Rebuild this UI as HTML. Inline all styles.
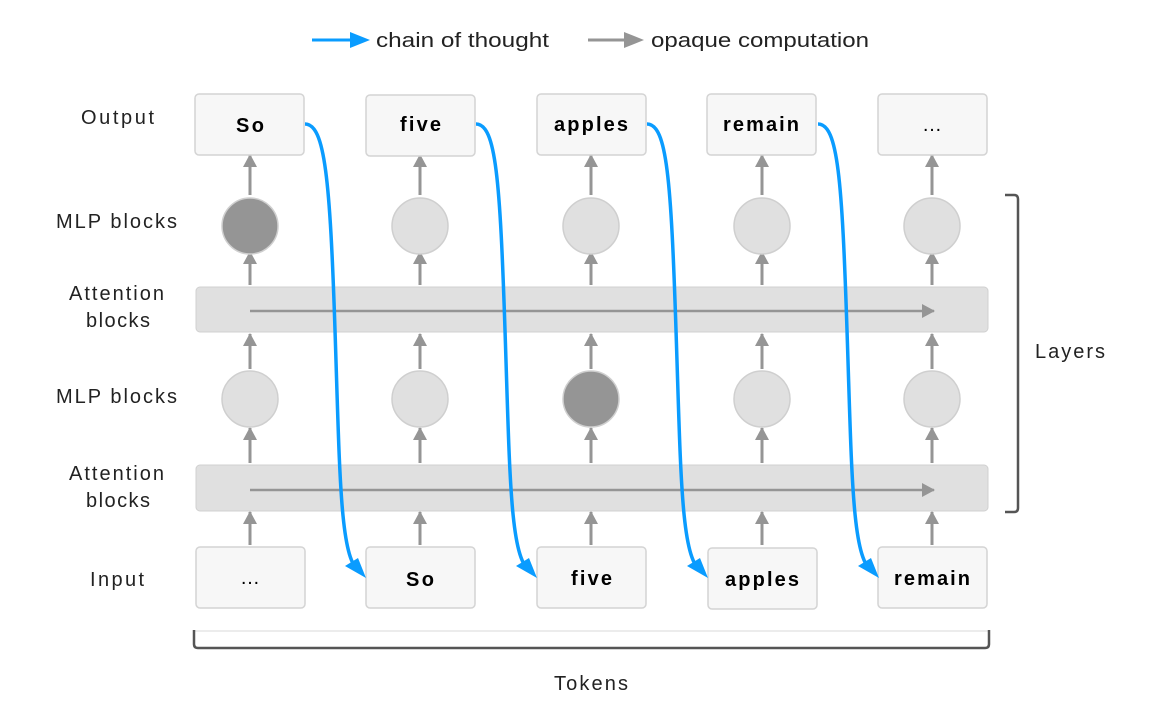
<!DOCTYPE html><html><head><style>body{margin:0;background:#fff}</style></head><body>
<svg width="1171" height="718" xmlns="http://www.w3.org/2000/svg" font-family="Liberation Sans, sans-serif">
<defs>
<marker id="g" markerWidth="14" markerHeight="14" refX="12" refY="7" orient="auto" markerUnits="userSpaceOnUse"><path d="M0,0 L13,7 L0,14z" fill="#959595"/></marker>
</defs>
<!-- legend -->
<line x1="312" y1="40" x2="356" y2="40" stroke="#0a9cff" stroke-width="3"/><path d="M350,32 L370,40 L350,48z" fill="#0a9cff"/>
<text x="376" y="47" font-size="20" fill="#222" textLength="173" lengthAdjust="spacingAndGlyphs">chain of thought</text>
<line x1="588" y1="40" x2="630" y2="40" stroke="#959595" stroke-width="3"/><path d="M624,32 L644,40 L624,48z" fill="#959595"/>
<text x="651" y="47" font-size="20" fill="#222" textLength="218" lengthAdjust="spacingAndGlyphs">opaque computation</text>
<!-- row labels -->
<g font-size="20" fill="#222" lengthAdjust="spacingAndGlyphs">
<text x="81" y="124" textLength="73">Output</text>
<text x="56" y="228" textLength="121">MLP blocks</text>
<text x="69" y="300" textLength="95">Attention</text><text x="86" y="327" textLength="64">blocks</text>
<text x="56" y="403" textLength="121">MLP blocks</text>
<text x="69" y="480" textLength="95">Attention</text><text x="86" y="507" textLength="64">blocks</text>
<text x="90" y="586" textLength="54">Input</text>
<text x="1035" y="358" textLength="70">Layers</text>
<text x="554" y="690" textLength="74">Tokens</text>
</g>
<!-- attention bars -->
<rect x="196" y="287" width="792" height="45" rx="4" fill="#e0e0e0" stroke="#d0d0d0"/>
<rect x="196" y="465" width="792" height="46" rx="4" fill="#e0e0e0" stroke="#d0d0d0"/>
<line x1="250" y1="311" x2="934" y2="311" stroke="#959595" stroke-width="2.5" marker-end="url(#g)"/>
<line x1="250" y1="490" x2="934" y2="490" stroke="#959595" stroke-width="2.5" marker-end="url(#g)"/>
<!-- columns -->
<g stroke="#959595" stroke-width="3" marker-end="url(#g)">
<line x1="250" y1="545" x2="250" y2="512"/><line x1="250" y1="463" x2="250" y2="428"/><line x1="250" y1="369" x2="250" y2="334"/><line x1="250" y1="285" x2="250" y2="252"/><line x1="250" y1="195" x2="250" y2="155"/>
<line x1="420" y1="545" x2="420" y2="512"/><line x1="420" y1="463" x2="420" y2="428"/><line x1="420" y1="369" x2="420" y2="334"/><line x1="420" y1="285" x2="420" y2="252"/><line x1="420" y1="195" x2="420" y2="155"/>
<line x1="591" y1="545" x2="591" y2="512"/><line x1="591" y1="463" x2="591" y2="428"/><line x1="591" y1="369" x2="591" y2="334"/><line x1="591" y1="285" x2="591" y2="252"/><line x1="591" y1="195" x2="591" y2="155"/>
<line x1="762" y1="545" x2="762" y2="512"/><line x1="762" y1="463" x2="762" y2="428"/><line x1="762" y1="369" x2="762" y2="334"/><line x1="762" y1="285" x2="762" y2="252"/><line x1="762" y1="195" x2="762" y2="155"/>
<line x1="932" y1="545" x2="932" y2="512"/><line x1="932" y1="463" x2="932" y2="428"/><line x1="932" y1="369" x2="932" y2="334"/><line x1="932" y1="285" x2="932" y2="252"/><line x1="932" y1="195" x2="932" y2="155"/>
</g>
<g stroke="#cfcfcf" stroke-width="1.5">
<circle cx="250" cy="226" r="28" fill="#959595"/><circle cx="420" cy="226" r="28" fill="#e0e0e0"/><circle cx="591" cy="226" r="28" fill="#e0e0e0"/><circle cx="762" cy="226" r="28" fill="#e0e0e0"/><circle cx="932" cy="226" r="28" fill="#e0e0e0"/>
<circle cx="250" cy="399" r="28" fill="#e0e0e0"/><circle cx="420" cy="399" r="28" fill="#e0e0e0"/><circle cx="591" cy="399" r="28" fill="#959595"/><circle cx="762" cy="399" r="28" fill="#e0e0e0"/><circle cx="932" cy="399" r="28" fill="#e0e0e0"/>
</g>
<!-- boxes -->
<g fill="#f7f7f7" stroke="#d4d4d4" stroke-width="1.5">
<rect x="195" y="94" width="109" height="61" rx="4"/><rect x="366" y="95" width="109" height="61" rx="4"/><rect x="537" y="94" width="109" height="61" rx="4"/><rect x="707" y="94" width="109" height="61" rx="4"/><rect x="878" y="94" width="109" height="61" rx="4"/>
<rect x="196" y="547" width="109" height="61" rx="4"/><rect x="366" y="547" width="109" height="61" rx="4"/><rect x="537" y="547" width="109" height="61" rx="4"/><rect x="708" y="548" width="109" height="61" rx="4"/><rect x="878" y="547" width="109" height="61" rx="4"/>
</g>
<g font-size="20" font-weight="bold" fill="#000" lengthAdjust="spacingAndGlyphs">
<text x="236" y="132" textLength="28">So</text><text x="400" y="131" textLength="41">five</text><text x="554" y="131" textLength="74">apples</text><text x="723" y="131" textLength="76">remain</text>
<text x="406" y="586" textLength="28">So</text><text x="571" y="585" textLength="41">five</text><text x="725" y="586" textLength="74">apples</text><text x="894" y="585" textLength="76">remain</text>
</g>
<g font-size="20" text-anchor="middle" fill="#000"><text x="932" y="131">…</text><text x="250" y="584">…</text></g>
<!-- blue curves -->
<g fill="none" stroke="#0a9cff" stroke-width="3.5">
<path d="M305,124 C325,124 330,180 335,330 C340,480 340,560 360,572"/>
<path d="M476,124 C496,124 500,180 505,330 C510,480 510,560 531,572"/>
<path d="M647,124 C667,124 671,180 676,330 C681,480 681,560 702,572"/>
<path d="M818,124 C838,124 842,180 847,330 C852,480 852,560 873,572"/>
</g>
<g fill="#0a9cff">
<path d="M345,566 L366,578 L358,558z"/><path d="M516,566 L537,578 L529,558z"/><path d="M687,566 L708,578 L700,558z"/><path d="M858,566 L879,578 L871,558z"/>
</g>
<!-- brackets -->
<path d="M1005,195 L1014,195 Q1018,195 1018,199 L1018,508 Q1018,512 1014,512 L1005,512" fill="none" stroke="#555" stroke-width="2.5"/>
<line x1="194" y1="631" x2="989" y2="631" stroke="#d8d8d8" stroke-width="1"/>
<path d="M194,630 L194,644 Q194,648 198,648 L985,648 Q989,648 989,644 L989,630" fill="none" stroke="#555" stroke-width="2.5"/>
</svg>
</body></html>
